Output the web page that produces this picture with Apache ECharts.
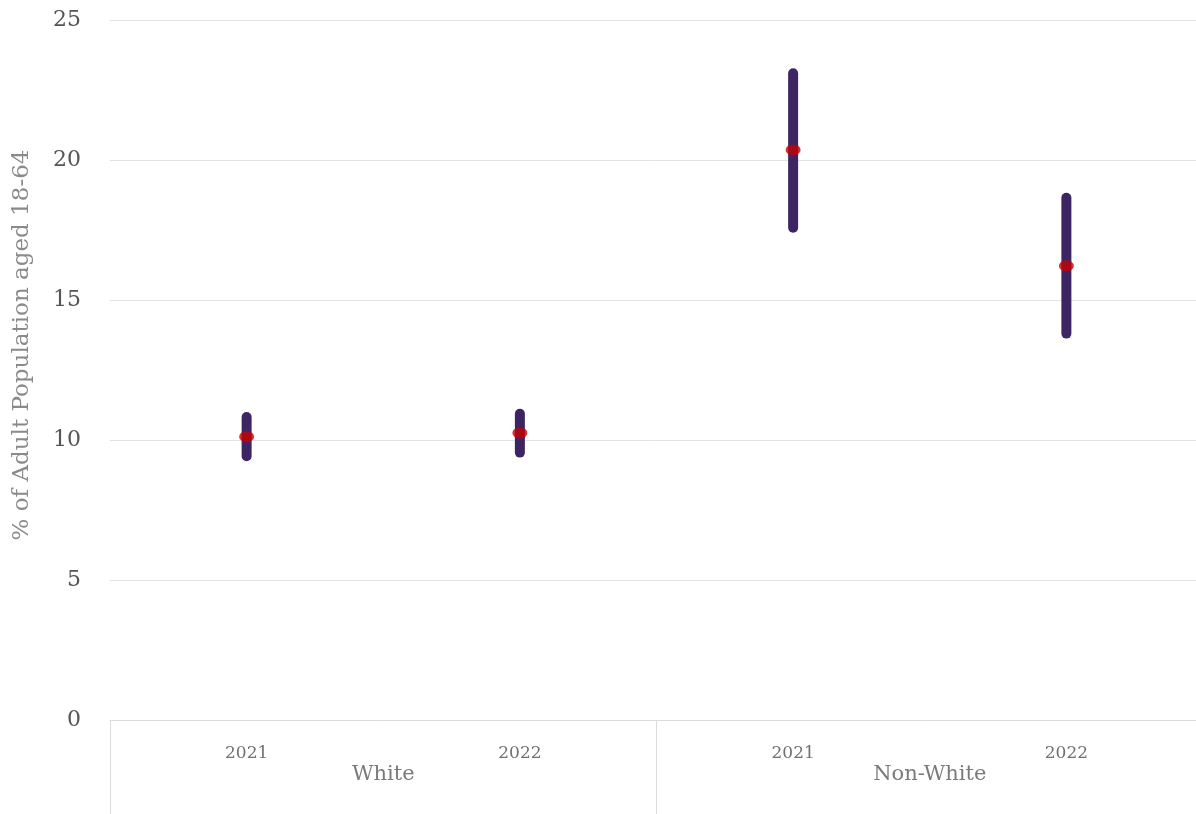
<!DOCTYPE html>
<html><head><meta charset="utf-8">
<script src="https://cdn.jsdelivr.net/npm/echarts@6/dist/echarts.min.js"></script>
<style>html,body{margin:0;padding:0;background:#fff}#c{width:1196px;height:814px}</style>
</head><body><div id="c"></div>
<script>
var years = ['2021', '2022', '2021', '2022'];
var groups = ['White', 'Non-White'];
var lowVals = [9.42, 9.55, 17.58, 13.8];
var midVals = [10.12, 10.25, 20.36, 16.22];
var highVals = [10.82, 10.94, 23.1, 18.65];
var yTicks = [0, 5, 10, 15, 20, 25];

var FONT = '"DejaVu Serif", "Liberation Serif", serif';
var rangeData = years.map(function (y, i) { return [i, lowVals[i], highVals[i]]; });
var midData = years.map(function (y, i) { return [i, midVals[i]]; });

var chart = echarts.init(document.getElementById('c'));
chart.setOption({
  animation: false,
  grid: { left: 110, right: -7, top: 20, bottom: 94, containLabel: false, outerBoundsMode: 'none' },
  xAxis: [{
    type: 'category', data: years, position: 'bottom',
    axisLine: { show: true, lineStyle: { color: '#dcdcdc', width: 1 } },
    axisTick: { show: false },
    axisLabel: { margin: 25, fontFamily: FONT, fontSize: 17, color: '#707070' }
  }, {
    type: 'category', data: groups, position: 'bottom',
    axisLine: { show: false },
    axisTick: { show: true, length: 100, lineStyle: { color: '#dcdcdc', width: 1 } },
    axisLabel: { margin: 44, fontFamily: FONT, fontSize: 21, color: '#7a7a7a' }
  }],
  yAxis: {
    type: 'value', min: yTicks[0], max: yTicks[yTicks.length - 1], interval: 5,
    axisLine: { show: false }, axisTick: { show: false },
    splitLine: { lineStyle: { color: '#e2e2e2', width: 1 } },
    axisLabel: { margin: 29, fontFamily: FONT, fontSize: 22, color: '#555' },
    name: '% of Adult Population aged 18-64', nameLocation: 'middle', nameGap: 76,
    nameTextStyle: { fontFamily: FONT, fontSize: 23, color: '#8a8a8a', padding: [0, 0, 0, 50] }
  },
  series: [{
    type: 'custom', xAxisIndex: 0,
    data: rangeData,
    encode: { x: 0, y: [1, 2] },
    renderItem: function (params, api) {
      var p1 = api.coord([api.value(0), api.value(1)]);
      var p2 = api.coord([api.value(0), api.value(2)]);
      return {
        type: 'line',
        shape: { x1: p1[0], y1: p1[1], x2: p2[0], y2: p2[1] },
        style: { stroke: '#3d2563', lineWidth: 10, lineCap: 'round' }
      };
    },
    z: 2
  }, {
    type: 'scatter', xAxisIndex: 0,
    data: midData,
    symbol: 'circle', symbolSize: [15, 11],
    itemStyle: { color: '#c80000' },
    z: 3
  }]
});
</script></body></html>
